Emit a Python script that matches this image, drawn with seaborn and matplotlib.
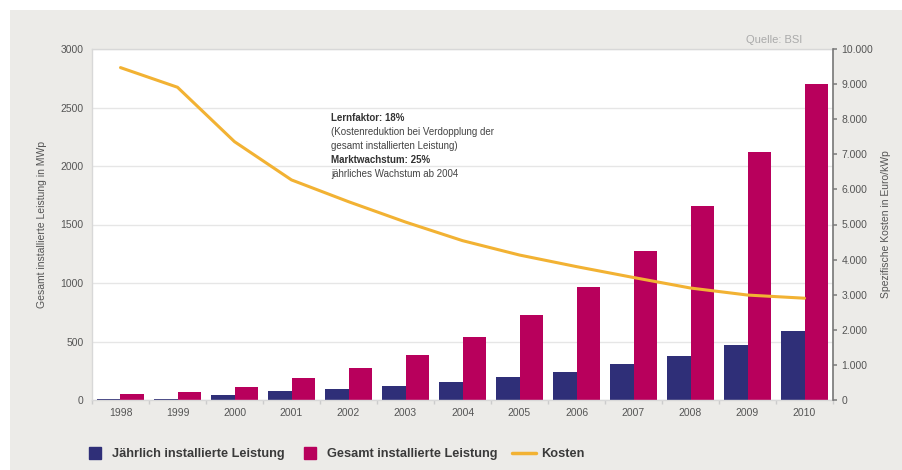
import numpy as np
import pandas as pd
import matplotlib
matplotlib.use("Agg")
import matplotlib.pyplot as plt
import seaborn as sns
from matplotlib.patches import Rectangle
from matplotlib.lines import Line2D
from matplotlib.ticker import FuncFormatter, MultipleLocator

years = ["1998", "1999", "2000", "2001", "2002", "2003", "2004", "2005",
         "2006", "2007", "2008", "2009", "2010"]
jaehrlich = [12, 10, 45, 80, 90, 120, 155, 195, 240, 305, 380, 470, 590]
gesamt = [55, 70, 110, 190, 275, 385, 540, 725, 970, 1275, 1655, 2120, 2700]
kosten = [9470, 8910, 7360, 6270, 5650, 5070, 4540, 4130, 3800, 3490, 3190, 2990, 2900]

label_j = "Jährlich installierte Leistung"
label_g = "Gesamt installierte Leistung"
label_k = "Kosten"

c_blue = "#2f2f78"
c_mag = "#b8005c"
c_yel = "#f2b233"
bg = "#ecebe8"
txt = "#555555"

sns.set_theme(style="white")
plt.rcParams["font.family"] = ["Liberation Sans", "DejaVu Sans"]

df = pd.DataFrame({
    "Jahr": years * 2,
    "Wert": jaehrlich + gesamt,
    "Serie": [label_j] * len(years) + [label_g] * len(years),
})

fig = plt.figure(figsize=(9.03, 4.70), dpi=100)
fig.patch.set_facecolor("white")
fig.patches.append(Rectangle((10 / 903, 0), 1, (470 - 10) / 470,
                             transform=fig.transFigure, facecolor=bg,
                             edgecolor="none", zorder=-10))

ax = fig.add_axes([92 / 903, 70 / 470, (833 - 92) / 903, (400 - 49) / 470])
ax.set_facecolor("white")
sns.barplot(data=df, x="Jahr", y="Wert", hue="Serie",
            palette=[c_blue, c_mag], ax=ax, width=0.82, saturation=1,
            linewidth=0, legend=False)
ax.set_ylim(0, 3000)
ax.set_xlim(-0.5, len(years) - 0.5)
ax.yaxis.set_major_locator(MultipleLocator(500))
ax.grid(axis="y", color="#e6e6e6", linewidth=1)
ax.set_axisbelow(True)
ax.set_xlabel("")
ax.set_ylabel("Gesamt installierte Leistung in MWp", fontsize=7.5, color=txt, labelpad=10)
ax.tick_params(axis="both", labelsize=7.5, labelcolor=txt, length=0, pad=6)
for s in ["left", "bottom", "top"]:
    ax.spines[s].set_color("#d8d8d8")
    ax.spines[s].set_linewidth(1)
ax.spines["right"].set_visible(False)
ax.set_xticks(np.arange(len(years) + 1) - 0.5, minor=True)
ax.tick_params(axis="x", which="minor", length=3, color="#cccccc", bottom=True)

ax2 = ax.twinx()
sns.lineplot(x=np.arange(len(years)), y=kosten, ax=ax2, color=c_yel,
             linewidth=2.2, legend=False)
ax2.set_ylim(0, 10000)
ax2.yaxis.set_major_locator(MultipleLocator(1000))
ax2.yaxis.set_major_formatter(FuncFormatter(lambda v, p: f"{int(v):,}".replace(",", ".")))
ax2.set_ylabel("Spezifische Kosten in Euro/kWp", fontsize=7.5, color=txt, labelpad=6)
ax2.tick_params(axis="y", labelsize=7.5, labelcolor=txt, length=3, color="#888888", pad=3)
ax2.grid(False)
for s in ["left", "bottom", "top"]:
    ax2.spines[s].set_visible(False)
ax2.spines["right"].set_color("#777777")
ax2.spines["right"].set_linewidth(1.2)

# annotation
ann_x = 3.7
fs = 7.0
ax.text(ann_x, 2410, "Lernfaktor: 18%", fontsize=fs, fontweight="bold", color="#333333", va="center")
ax.text(ann_x, 2290, "(Kostenreduktion bei Verdopplung der", fontsize=fs, color="#444444", va="center")
ax.text(ann_x, 2171, "gesamt installierten Leistung)", fontsize=fs, color="#444444", va="center")
ax.text(ann_x, 2051, "Marktwachstum: 25%", fontsize=fs, fontweight="bold", color="#333333", va="center")
ax.text(ann_x, 1932, "jährliches Wachstum ab 2004", fontsize=fs, color="#444444", va="center")

fig.text(802 / 903, (470 - 40) / 470, "Quelle: BSI", fontsize=8, color="#aaaaaa",
         ha="right", va="center")

handles = [
    Line2D([], [], marker="s", linestyle="none", markersize=8.5, color=c_blue),
    Line2D([], [], marker="s", linestyle="none", markersize=8.5, color=c_mag),
    Line2D([], [], color=c_yel, linewidth=2.5),
]
fig.legend(handles, [label_j, label_g, label_k], loc="center left",
           bbox_to_anchor=(71 / 903, (470 - 454) / 470), ncol=3, frameon=False,
           prop={"size": 9.2, "weight": "bold"}, labelcolor="#3a3a3a",
           handlelength=1.9, columnspacing=1.1, handletextpad=0.38)

fig.savefig("out.png", dpi=100, facecolor=fig.get_facecolor())
